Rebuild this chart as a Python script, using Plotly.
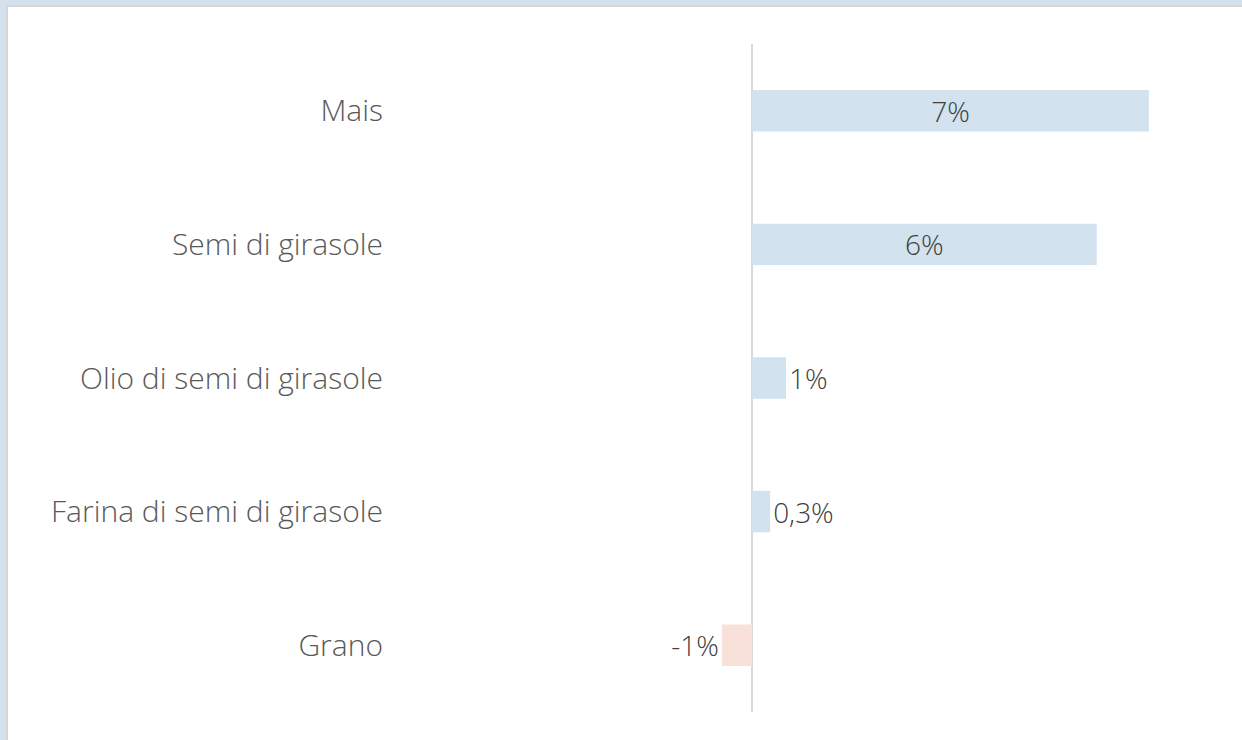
import plotly.graph_objects as go

categories = ["Mais", "Semi di girasole", "Olio di semi di girasole",
              "Farina di semi di girasole", "Grano"]
values = [7.0, 6.08, 0.6, 0.32, -0.53]
labels = ["7%", "6%", "1%", "0,3%", "-1%"]
colors = ["#d3e2ef", "#d3e2ef", "#d3e2ef", "#d3e2ef", "#f8e1d8"]
positions = ["inside", "inside", "outside", "outside", "outside"]

W, H = 1242, 740
L, R, T, B = 392, 1202, 44, 712
ZERO = 752
PPU = 56.7

fig = go.Figure(go.Bar(
    x=values, y=categories, orientation="h",
    marker=dict(color=colors, line=dict(width=0)),
    text=labels, texttemplate="%{text}",
    textposition=positions, insidetextanchor="middle",
    textfont=dict(family="Open Sans", size=28, color="#404040", weight=300),
    constraintext="none", cliponaxis=False,
))

xmin = -(ZERO - L) / PPU
xmax = (R - ZERO) / PPU

def px(x):
    return (x - L) / (R - L)

def py(y):
    return (B - y) / (B - T)

fig.add_shape(type="rect", xref="paper", yref="paper",
              x0=px(7), x1=px(1300), y0=py(6), y1=py(800),
              fillcolor="white", line=dict(color="#d6d6d6", width=2),
              layer="below")

fig.update_layout(
    width=W, height=H,
    margin=dict(l=L, r=W - R, t=T, b=H - B, pad=0),
    paper_bgcolor="#d3e1ee",
    plot_bgcolor="rgba(0,0,0,0)",
    bargap=0.69,
    showlegend=False,
    font=dict(family="Open Sans", color="#595959"),
    xaxis=dict(range=[xmin, xmax], showgrid=False, showticklabels=False,
               zeroline=True, zerolinecolor="#d9d9d9", zerolinewidth=2,
               showline=False, ticks=""),
    yaxis=dict(autorange="reversed", showgrid=False, zeroline=False,
               showline=False, ticks="", ticklabelstandoff=8,
               tickfont=dict(family="Open Sans", size=30, color="#595959",
                             weight=300)),
)

fig.write_html(
    "out.html",
    config={"displayModeBar": False},
    post_script="document.body.style.margin='0';document.body.style.overflow='hidden';",
)
